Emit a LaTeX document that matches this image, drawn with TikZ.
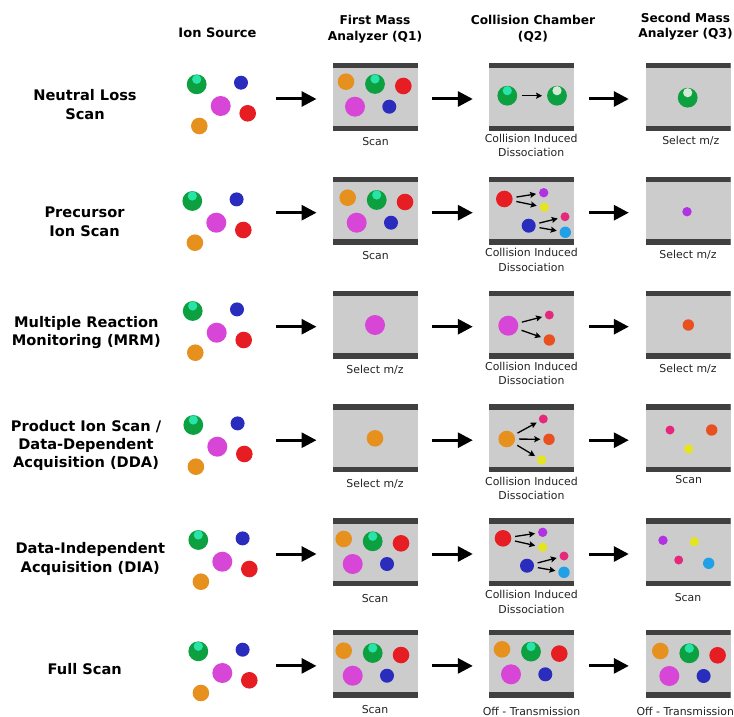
\documentclass[tikz,border=0pt]{standalone}
\usepackage{fontspec}
\setmainfont{DejaVu Sans}
\usetikzlibrary{arrows.meta,calc}
\definecolor{cGreen}{RGB}{12,160,64}
\definecolor{cHl}{RGB}{40,228,168}
\definecolor{cPale}{RGB}{212,232,214}
\definecolor{cBlue}{RGB}{42,44,190}
\definecolor{cMag}{RGB}{216,70,216}
\definecolor{cRed}{RGB}{230,30,36}
\definecolor{cOrange}{RGB}{230,145,30}
\definecolor{cPurple}{RGB}{176,50,226}
\definecolor{cYellow}{RGB}{228,228,32}
\definecolor{cPink}{RGB}{230,40,125}
\definecolor{cCyan}{RGB}{32,160,230}
\definecolor{cOrRed}{RGB}{232,80,32}
\definecolor{boxgray}{RGB}{204,204,204}
\definecolor{bargray}{RGB}{64,64,64}
\definecolor{captxt}{RGB}{34,34,34}
\tikzset{
 ball/.style 2 args={circle,inner sep=0pt,outer sep=0pt,minimum size=#2,fill=#1},
 gball/.style={ball={cGreen}{19.8pt},path picture={\fill[#1] ([yshift=5pt]path picture bounding box.center) circle[radius=4.6pt];}},
 oball/.style={ball={cOrange}{16.6pt}},
 rball/.style={ball={cRed}{16.6pt}},
 mball/.style={ball={cMag}{20pt}},
 bball/.style={ball={cBlue}{14pt}},
 fPurple/.style={ball={cPurple}{9.4pt}},
 fYellow/.style={ball={cYellow}{9.4pt}},
 fPink/.style={ball={cPink}{9pt}},
 fCyan/.style={ball={cCyan}{11.4pt}},
 fOrRed/.style={ball={cOrRed}{11.4pt}},
 qbox/.style={rectangle,inner sep=0pt,minimum width=85pt,minimum height=68pt,fill=boxgray,
   path picture={\fill[bargray] (path picture bounding box.north west) rectangle ([yshift=-5.5pt]path picture bounding box.north east);
                 \fill[bargray] (path picture bounding box.south west) rectangle ([yshift=5.5pt]path picture bounding box.south east);}},
 bigarrow/.style={line width=3pt,-{Triangle[length=15pt,width=15pt]}},
 smallarrow/.style={line width=1.3pt,-{Stealth[length=6pt,width=6pt,inset=1pt]},shorten <=4pt,shorten >=3pt},
 header/.style={font=\fontsize{12.2}{15.4}\selectfont\bfseries,align=center},
 rowlabel/.style={font=\fontsize{14.6}{18.3}\selectfont\bfseries,align=center},
 capt/.style={font=\fontsize{10.9}{14.2}\selectfont,align=center,text=captxt},
}
\newcommand\fullset[3]{%
 \node[oball] (#1o) at (#2,#3) {};
 \node[gball=cHl] (#1g) at ($(#1o)+(29,2.3)$) {};
 \node[rball] (#1r) at ($(#1o)+(57.3,4.3)$) {};
 \node[mball] (#1m) at ($(#1o)+(9,25)$) {};
 \node[bball] (#1b) at ($(#1o)+(43.3,25)$) {};}
\newcommand\cluster[3]{%
 \node[gball=cHl] (#1g) at (#2,#3) {};
 \node[bball] (#1b) at ($(#1g)+(44.3,-1.6)$) {};
 \node[mball] (#1m) at ($(#1g)+(24,21.7)$) {};
 \node[rball] (#1r) at ($(#1g)+(51,29)$) {};
 \node[oball] (#1o) at ($(#1g)+(2.6,41.7)$) {};}
\begin{document}
\begin{tikzpicture}[x=1pt,y=-1pt]
\useasboundingbox (0,0) rectangle (734,717);
% headers
\node[header,font=\fontsize{13}{15.4}\selectfont\bfseries] (hIon) at (217.5,32.7) {Ion Source};
\node[header] (hQ1) at (375,29) {First Mass\\Analyzer (Q1)};
\node[header] (hQ2) at (533,28.7) {Collision Chamber\\(Q2)};
\node[header] (hQ3) at (685.5,26.7) {Second Mass\\Analyzer (Q3)};
% row labels
\node[rowlabel] (l1) at (85,104.7) {Neutral Loss\\Scan};
\node[rowlabel] (l2) at (84.5,221.7) {Precursor\\Ion Scan};
\node[rowlabel] (l3) at (86.3,332.5) {Multiple Reaction\\Monitoring (MRM)};
\node[rowlabel] (l4) at (86,445.5) {Product Ion Scan /\\Data-Dependent\\Acquisition (DDA)};
\node[rowlabel] (l5) at (90.3,559) {Data-Independent\\Acquisition (DIA)};
\node[rowlabel] (l6) at (84.7,669) {Full Scan};
% boxes
\foreach \r/\y in {1/97,2/210.7,3/324.7,4/438.2,5/552,6/663.9}{
 \node[qbox] (qa\r) at (375.5,\y) {};
 \node[qbox] (qb\r) at (531.5,\y) {};
 \node[qbox] (qc\r) at (688,\y) {};
 \coordinate (s\r) at (276,\y+2);
 \draw[bigarrow,shorten >=16.3pt] (s\r) -- ([yshift=-2pt]qa\r.west);
 \draw[bigarrow,shorten <=14pt,shorten >=16pt] ([yshift=-2pt]qa\r.east) -- ([yshift=-2pt]qb\r.west);
 \draw[bigarrow,shorten <=15pt,shorten >=16.5pt] ([yshift=-2pt]qb\r.east) -- ([yshift=-2pt]qc\r.west);
}
% ion source clusters
\cluster{i1}{196.7}{84.3}
\cluster{i2}{192.3}{201}
\cluster{i3}{192.7}{311}
\cluster{i4}{193.3}{425}
\cluster{i5}{198.3}{540}
\cluster{i6}{198.3}{651.3}
% Row 1: neutral loss
\fullset{a1}{346}{81.7}
\node[gball=cHl] (b1g) at (507.3,95.7) {};
\node[gball=cPale] (b1n) at (557,95.7) {};
\draw[smallarrow,shorten <=5pt,shorten >=5pt] (b1g) -- (b1n);
\node[gball=cPale] (c1n) at (687.7,97.7) {};
% Row 2: precursor
\fullset{a2}{347.7}{197.7}
\node[rball] (b2r) at (504.3,199) {};
\node[fPurple] (b2p) at (543.7,192.7) {};
\node[fYellow] (b2y) at (544.3,207.3) {};
\node[bball] (b2b) at (528.7,225.7) {};
\node[fPink] (b2k) at (565,216.7) {};
\node[fCyan] (b2c) at (565.3,232.3) {};
\draw[smallarrow] (b2r) -- (b2p);
\draw[smallarrow] (b2r) -- (b2y);
\draw[smallarrow] (b2b) -- (b2k);
\draw[smallarrow] (b2b) -- (b2c);
\node[fPurple] (c2p) at (687,211.7) {};
% Row 3: MRM
\node[mball] (a3m) at (375,325) {};
\node[mball] (b3m) at (508.3,325.7) {};
\node[fPink] (b3k) at (549.3,315) {};
\node[fOrRed] (b3o) at (549.3,340) {};
\draw[smallarrow] (b3m) -- (b3k);
\draw[smallarrow] (b3m) -- (b3o);
\node[fOrRed] (c3o) at (688.3,325) {};
% Row 4: DDA
\node[oball] (a4o) at (375,438.3) {};
\node[oball] (b4o) at (506.7,439) {};
\node[fPink] (b4k) at (543.3,419) {};
\node[fOrRed] (b4r) at (549,439.3) {};
\node[fYellow] (b4y) at (541.7,460) {};
\draw[smallarrow] (b4o) -- (b4k);
\draw[smallarrow] (b4o) -- (b4r);
\draw[smallarrow] (b4o) -- (b4y);
\node[fPink] (c4k) at (670,430) {};
\node[fOrRed] (c4r) at (711.7,430) {};
\node[fYellow] (c4y) at (688.7,449) {};
% Row 5: DIA
\fullset{a5}{343.7}{539}
\node[rball] (b5r) at (503,538.3) {};
\node[fPurple] (b5p) at (542.7,532.3) {};
\node[fYellow] (b5y) at (542.7,547.3) {};
\node[bball] (b5b) at (527,565.7) {};
\node[fPink] (b5k) at (564,556) {};
\node[fCyan] (b5c) at (564,572.3) {};
\draw[smallarrow] (b5r) -- (b5p);
\draw[smallarrow] (b5r) -- (b5y);
\draw[smallarrow] (b5b) -- (b5k);
\draw[smallarrow] (b5b) -- (b5c);
\node[fPurple] (c5p) at (663,540.3) {};
\node[fYellow] (c5y) at (694.3,541.7) {};
\node[fPink] (c5k) at (678.7,560) {};
\node[fCyan] (c5c) at (708.7,563.3) {};
% Row 6: full scan
\fullset{a6}{343.7}{650.7}
\fullset{b6}{502}{649.3}
\fullset{c6}{660.3}{651}
% captions
\node[capt] (t1a) at (375.5,141.7) {Scan};
\node[capt] (t1b) at (531.2,145.3) {Collision Induced\\Dissociation};
\node[capt] (t1c) at (690.8,141.3) {Select m/z};
\node[capt] (t2a) at (375.5,256) {Scan};
\node[capt] (t2b) at (531.5,260) {Collision Induced\\Dissociation};
\node[capt] (t2c) at (688,255) {Select m/z};
\node[capt] (t3a) at (375,370) {Select m/z};
\node[capt] (t3b) at (531.5,373.3) {Collision Induced\\Dissociation};
\node[capt] (t3c) at (688,369) {Select m/z};
\node[capt] (t4a) at (375,484) {Select m/z};
\node[capt] (t4b) at (531.5,488.7) {Collision Induced\\Dissociation};
\node[capt] (t4c) at (688.7,480) {Scan};
\node[capt] (t5a) at (375,599) {Scan};
\node[capt] (t5b) at (531.5,602) {Collision Induced\\Dissociation};
\node[capt] (t5c) at (688,597.3) {Scan};
\node[capt] (t6a) at (375,710) {Scan};
\node[capt] (t6b) at (531.5,711.7) {Off - Transmission};
\node[capt] (t6c) at (685.3,711.7) {Off - Transmission};
\end{tikzpicture}
\end{document}
